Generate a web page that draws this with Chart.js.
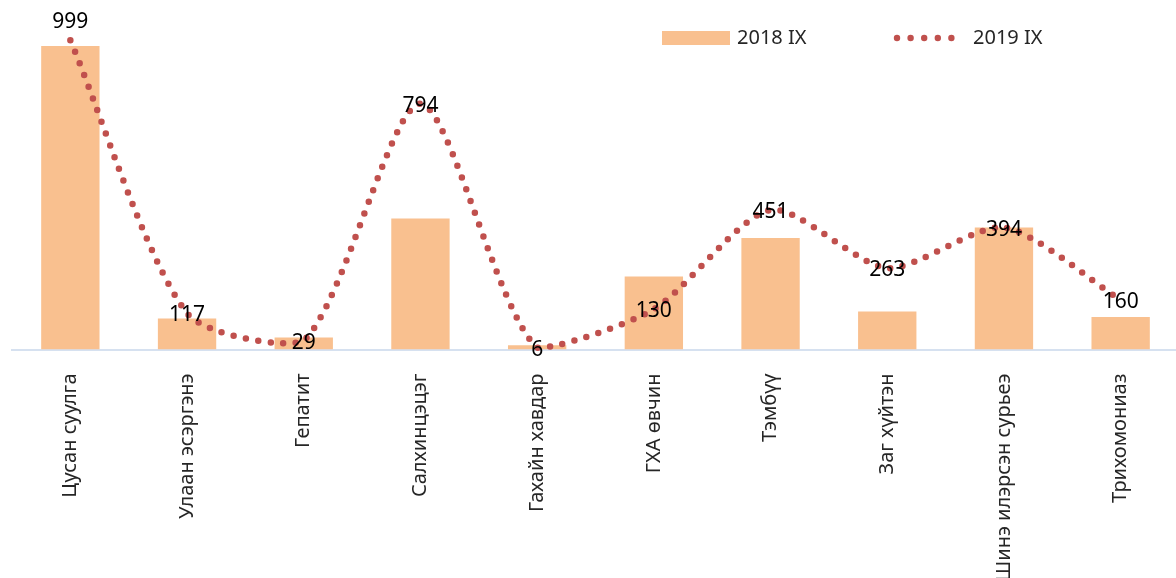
<!DOCTYPE html>
<html>
<head>
<meta charset="utf-8">
<script src="https://cdn.jsdelivr.net/npm/chart.js@4.4.1/dist/chart.umd.min.js"></script>
<style>
  html, body { margin: 0; padding: 0; background: #fff; overflow: hidden; }
  #wrap { position: relative; width: 1176px; height: 578px; overflow: hidden; }
</style>
</head>
<body>
<div id="wrap"><canvas id="chart" width="1179" height="578"></canvas></div>
<script>
// ── Data ───────────────────────────────────────
const categories = [
  'Цусан суулга', 'Улаан эсэргэнэ', 'Гепатит', 'Салхинцэцэг', 'Гахайн хавдар',
  'ГХА өвчин', 'Тэмбүү', 'Заг хүйтэн', 'Шинэ илэрсэн сурьеэ', 'Трихомониаз'
];
const values2018 = [981, 100, 39, 423, 14, 236, 360, 123, 394, 105];
const values2019 = [999, 117, 29, 794, 6, 130, 451, 263, 394, 160];
const seriesNames = ['2018 IX', '2019 IX'];
const yMin = 0;
const yMax = 1000;

const BAR_COLOR  = '#F9C08F';
const LINE_COLOR = '#C0504D';
const FONT = '"Noto Sans", "DejaVu Sans", sans-serif';

// ── Value labels on the 2019 line ─────────────
const valueLabels = {
  id: 'valueLabels',
  afterDatasetsDraw(chart) {
    const ctx  = chart.ctx;
    const meta = chart.getDatasetMeta(1);
    ctx.save();
    ctx.font = `21px ${FONT}`;
    ctx.fillStyle = '#000';
    ctx.textAlign = 'center';
    ctx.textBaseline = 'middle';
    meta.data.forEach((pt, i) => {
      const v = chart.data.datasets[1].data[i];
      const y = (v === Math.max(...values2019)) ? pt.y - 18 : pt.y + 2;
      ctx.fillText(String(v), pt.x, y);
    });
    ctx.restore();
  }
};

// ── Legend (top right, overlapping plot) ──────
const customLegend = {
  id: 'customLegend',
  afterDraw(chart) {
    const ctx = chart.ctx;
    ctx.save();
    ctx.font = `20px ${FONT}`;
    ctx.textBaseline = 'middle';
    ctx.textAlign = 'left';

    ctx.fillStyle = BAR_COLOR;
    ctx.fillRect(662, 31, 68, 14);
    ctx.fillStyle = '#262626';
    ctx.fillText(seriesNames[0], 737, 38);

    ctx.fillStyle = LINE_COLOR;
    for (let k = 0; k < 5; k++) {
      ctx.beginPath();
      ctx.arc(897 + k * 13.6, 38, 3.2, 0, Math.PI * 2);
      ctx.fill();
    }
    ctx.fillStyle = '#262626';
    ctx.fillText(seriesNames[1], 973, 38);
    ctx.restore();
  }
};

new Chart(document.getElementById('chart').getContext('2d'), {
  type: 'bar',
  data: {
    labels: categories,
    datasets: [
      {
        label: seriesNames[0],
        data: values2018,
        backgroundColor: BAR_COLOR,
        borderWidth: 0,
        categoryPercentage: 1,
        barPercentage: 0.5,
        order: 2
      },
      {
        type: 'line',
        label: seriesNames[1],
        data: values2019,
        borderColor: LINE_COLOR,
        borderWidth: 6.5,
        borderDash: [0, 12.5],
        borderCapStyle: 'round',
        pointRadius: 0,
        tension: 0.25,
        fill: false,
        clip: false,
        order: 1
      }
    ]
  },
  options: {
    responsive: false,
    animation: false,
    layout: { padding: { left: 12, right: 0, top: 40, bottom: 0 } },
    plugins: {
      legend: { display: false },
      tooltip: { enabled: false }
    },
    scales: {
      y: { display: false, min: yMin, max: yMax },
      x: {
        grid: { display: false, drawTicks: false },
        border: { color: '#D6E1F0', width: 2 },
        afterFit: s => { s.height = 228.5; },
        ticks: {
          autoSkip: false,
          maxRotation: 90,
          minRotation: 90,
          padding: 24,
          color: '#262626',
          font: { family: FONT, size: 20 }
        }
      }
    }
  },
  plugins: [valueLabels, customLegend]
});
</script>
</body>
</html>
